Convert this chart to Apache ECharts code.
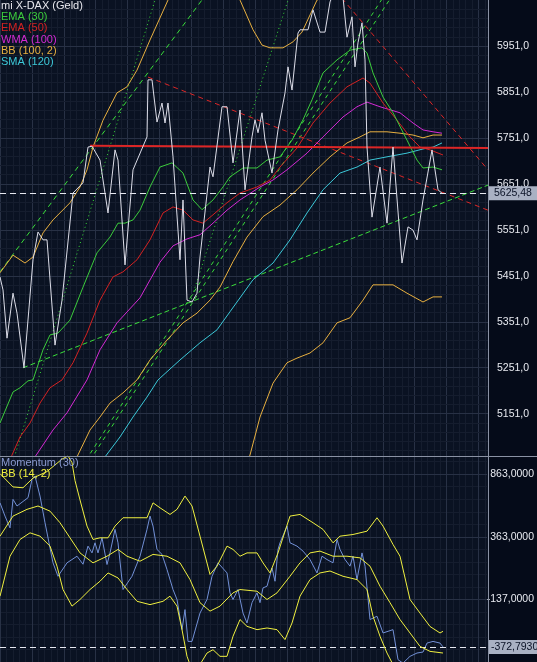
<!DOCTYPE html>
<html><head><meta charset="utf-8">
<script src="https://cdn.jsdelivr.net/npm/echarts@6/dist/echarts.min.js"></script>
<style>html,body{margin:0;padding:0;background:#050b19;}#c{width:537px;height:662px;}</style>
</head><body><div id="c"></div>
<script>
// ---- upper panel: [day, value] ----
const price = [[0,5445],[0.75,5417],[1.75,5313],[3.25,5410],[4.25,5367],[6,5249],[8.25,5482],[9.5,5542],[10.75,5525],[11.75,5525],[13.75,5298],[15.5,5395],[18.25,5626],[20.75,5648],[22,5725],[23,5727],[25,5697],[27,5583],[28.75,5719],[29.5,5697],[31.25,5471],[33.25,5676],[36.75,5747],[37,5870],[38,5870],[39.25,5779],[40.5,5820],[41.25,5777],[42,5820],[43.25,5704],[45,5482],[45.75,5611],[46.75,5395],[48,5391],[49.25,5410],[50,5488],[52.5,5682],[53.25,5661],[55.5,5812],[56.75,5812],[58.25,5691],[60,5805],[61.25,5633],[63,5747],[63.75,5784],[64.5,5756],[65.5,5799],[66.25,5740],[68,5669],[69.5,5762],[71.25,5842],[72,5898],[73,5848],[74.5,5971],[75,5978],[77,5978],[78.25,6021],[80,5973],[81.25,5973],[82.5,6038],[84,6070],[85.5,6070],[86.75,5962],[88,6006],[88.75,5898],[89.5,5950],[90.5,5993],[91.25,5913],[91.75,5725],[93,5574],[95,5682],[96.75,5561],[98.25,5725],[100.5,5475],[102,5553],[103.25,5546],[104.25,5525],[105.75,5611],[108,5719],[109.5,5633],[110.5,5625.48]];
const ema30 = [[0,5130],[3.25,5197],[5,5206],[7,5221],[8.25,5223],[10.75,5288],[12.5,5320],[14.5,5324],[17.5,5352],[20.75,5423],[24.25,5497],[27.5,5531],[29.5,5561],[31.25,5561],[33.25,5568],[35,5589],[37.5,5639],[40,5682],[43,5691],[45.75,5669],[48.25,5611],[50.5,5590],[53.25,5611],[55.75,5639],[57.5,5661],[60.75,5680],[64.25,5680],[66.75,5697],[70,5704],[73,5740],[75.75,5784],[78,5827],[80.75,5885],[84.25,5913],[87.5,5934],[90.5,5939],[91.75,5928],[93.25,5885],[95.75,5833],[98.25,5799],[101.75,5740],[104.25,5697],[105.75,5680],[108.25,5682],[110.5,5676]];
const ema50 = [[2.25,5040],[3,5061],[5,5100],[7.5,5130],[10,5173],[12.5,5206],[15.5,5223],[18.25,5260],[21.75,5324],[25,5395],[28.25,5445],[30.75,5456],[34.25,5482],[37.5,5525],[40.75,5583],[43.25,5596],[45.75,5589],[48.25,5568],[50.75,5561],[53.25,5579],[56.75,5605],[60,5626],[64.25,5639],[67.5,5654],[70,5682],[74.25,5723],[78.25,5777],[82.5,5820],[86.75,5855],[90.75,5874],[92.5,5863],[95.75,5820],[99.25,5783],[102.5,5747],[105,5725],[107.5,5719],[110.75,5708]];
const wma100 = [[8,5040],[8.75,5057],[13.25,5115],[16.75,5152],[21.75,5223],[25,5288],[29.25,5346],[35,5400],[40,5477],[43.25,5512],[46.75,5527],[50,5536],[53.25,5561],[56.75,5589],[60,5611],[65,5639],[68.25,5654],[71.75,5676],[76.75,5712],[80.75,5747],[85.75,5790],[89.25,5812],[91.75,5822],[95,5812],[100,5799],[103.25,5777],[105.75,5762],[108.25,5758],[110.5,5755]];
const bbUpper = [[0,5454],[3.25,5492],[6.25,5475],[8.25,5488],[10.75,5540],[13.25,5568],[17.5,5605],[20,5639],[21.75,5676],[23.25,5725],[25.75,5783],[29.25,5842],[31.75,5855],[34.25,5891],[37.5,5956],[42,6042],[44,6090],[51,6170],[60,6042],[63.25,5978],[65.5,5945],[67.5,5939],[70.75,5939],[73.25,5952],[75.5,5973],[79.25,6042],[85,6075],[95,6090],[110.5,6100]];
const bbMiddle = [[18.5,5040],[19.25,5057],[22.5,5115],[25,5143],[27.5,5173],[30.75,5195],[34.25,5223],[37.5,5266],[41.75,5309],[45.75,5346],[49.25,5367],[52.5,5395],[55,5423],[58.25,5478],[61.75,5531],[65.75,5575],[70,5600],[74.25,5633],[78.25,5669],[82.5,5704],[86.75,5734],[90,5747],[92.5,5758],[96.75,5758],[100,5755],[103.25,5751],[105.75,5745],[108.25,5751],[110.5,5751]];
const bbLower = [[57.5,4921],[62,5050],[62.5,5061],[65,5143],[68.25,5216],[71.75,5260],[74.25,5270],[77.5,5281],[80.75,5303],[84.25,5346],[87.5,5357],[90.75,5395],[93.25,5428],[98.25,5428],[101.75,5410],[105.75,5391],[108.25,5402],[110.5,5402]];
const sma120 = [[25.5,5040],[26.25,5057],[30,5100],[33.25,5143],[36.75,5186],[39.5,5223],[45,5266],[50,5303],[54.25,5331],[57.5,5370],[63.25,5439],[68.25,5475],[72.5,5525],[76.75,5583],[80.75,5633],[85,5669],[89.25,5682],[92.5,5697],[96.75,5704],[101.75,5712],[105.75,5721],[108.25,5725],[110.5,5734]];
// trend lines
const redHoriz = [[22.5,5728],[122,5723]];
const redDash1 = [[37,5876],[122,5589]];
const redDash2 = [[84,6061],[122,5676]];
const greenDot1 = [[3,5040],[39.25,6056]];
const greenDot2 = [[47.5,5389],[72.5,6055]];
const greenDashC = [[0,5456],[51.25,6051]];
const greenDashD1 = [[21.5,5050],[96,6051]];
const greenDashD2 = [[22.5,5050],[98,6051]];
const greenDashE = [[5.75,5249],[122,5643]];
// ---- lower panel ----
const momentum = [[0,669],[1.25,573],[2.5,488],[3.25,694],[4.25,646],[7,706],[8,839],[8.75,863],[10,718],[11.25,525],[13.25,235],[14.5,138],[16.75,235],[19.25,283],[20.75,225],[22,356],[23,307],[23.75,380],[24.5,307],[25.5,416],[26.75,223],[27.5,307],[28.75,477],[29.5,380],[30.75,42],[33,138],[35,283],[36.75,477],[37.5,573],[38.25,501],[39.25,332],[40.5,296],[41.75,187],[43.25,42],[44.25,-30],[45.5,-248],[46.25,-103],[47,-333],[48,-333],[50,-128],[51.75,-30],[53,138],[54.5,235],[56.75,162],[57.5,18],[58.25,-30],[59.5,42],[60.75,-128],[61.75,-200],[63,-53],[64.25,18],[65,-53],[65.75,54],[66.75,66],[68,198],[68.75,102],[69.5,332],[70,380],[71.75,501],[72.5,380],[74.25,356],[75.75,320],[77.5,259],[79.25,162],[80.5,283],[81.75,259],[83.25,235],[84.25,404],[85,332],[86.25,259],[87.5,211],[88.25,283],[89.25,114],[90.5,307],[91.25,211],[92.5,-175],[94.25,-151],[95.75,-272],[98.25,-248],[99.5,-465],[100.75,-490],[102.5,-441],[104.25,-417],[105.75,-410],[106.75,-345],[108.25,-333],[110,-345],[110.75,-372.793]];
const bb14Upper = [[0,880],[3.25,784],[5.75,778],[8.25,848],[11.75,895],[15.5,985],[17,1008],[18,960],[18.75,830],[20,690],[21.75,501],[23.25,404],[25,416],[27,416],[28.75,501],[30.75,561],[33.25,561],[36.75,561],[38.25,669],[40,633],[42.5,585],[44.25,622],[46.25,718],[48,646],[50,428],[52.5,151],[54.25,211],[56.75,356],[58.25,332],[60,283],[61.75,307],[64.25,307],[65.75,235],[67.5,162],[69.5,307],[72.5,573],[75,585],[78.25,525],[80.75,477],[83.25,380],[85,428],[88.25,440],[91.75,464],[94.25,561],[95.75,501],[98.25,368],[100,283],[102.5,-30],[105,-128],[107.5,-225],[110,-272],[110.75,-260]];
const bb14Middle = [[0,428],[3.25,573],[6.75,622],[9.5,646],[12.5,609],[15,525],[17.5,416],[20,307],[23.25,235],[26.75,283],[29.5,332],[31.75,283],[35,247],[38.25,296],[41.75,283],[45,235],[47.5,114],[50,-53],[52.5,-114],[55,-78],[58.25,18],[60,42],[64.25,30],[66.75,-30],[69.25,18],[72.5,138],[75,235],[77.5,307],[80,320],[83.25,283],[86.75,283],[90,271],[92.5,211],[95,66],[97.5,-53],[100,-175],[102.5,-272],[105,-369],[107.5,-405],[110.75,-417]];
const bb14Lower = [[0,-6],[2.5,283],[5,404],[7.5,452],[10,428],[12.5,356],[14.25,211],[15.75,42],[18,-78],[20,-30],[22.5,42],[25,102],[27,162],[29.5,126],[31.75,42],[34.25,-43],[37.5,-67],[40.75,-43],[42.5,-6],[44.25,-78],[45.5,-248],[46.75,-441],[47.5,-500],[50,-500],[51.75,-417],[53.25,-393],[55,-441],[56.75,-441],[58.25,-296],[60,-175],[61.75,-224],[64.25,-248],[66.75,-236],[69.25,-248],[71.25,-320],[73,-200],[75,-6],[77.5,114],[80,162],[82.5,176],[85.75,138],[89.25,114],[91.75,42],[93.25,-151],[95,-296],[96.75,-417],[98.25,-500],[100,-560],[110.75,-600]];
// ---- legend texts ----
const upperLegend = ['mi X-DAX (Geld)','EMA (30)','EMA (50)','WMA (100)','BB (100, 2)','SMA (120)'];
const lowerLegend = ['Momentum (30)','BB (14, 2)'];

const FONT = '"Liberation Sans", Arial, sans-serif';
const MAJOR = '#283145', MINOR = '#151d2e', BORDER = '#8a92a4';
const C = {price:'#dcdde8', ema30:'#3ccc3c', ema50:'#d42222', wma:'#d42ad4', bb:'#e8b040', sma:'#3cc8d8', red:'#dd2626', green:'#3ade3a', mom:'#7290d6', bb14:'#f0f040'};

function ser(data, color, o) {
  o = o || {};
  return {type:'line', data:data, xAxisIndex:o.lower?1:0, yAxisIndex:o.lower?1:0, showSymbol:false, symbol:'none',
    silent:true, animation:false, z:o.z||4, lineStyle:{color:color, width:o.width||1, type:o.dash||'solid'}};
}
const lastP = price[price.length-1][1];
const lastM = momentum[momentum.length-1][1];
const boxLabel = (txt, pad) => ({show:true, position:'end', distance:1, formatter:()=>txt, color:'#0a1226',
  backgroundColor:'#a9b1c3', padding:pad, fontSize:10.5, fontFamily:FONT});

const priceSeries = ser(price, C.price, {z:6});
priceSeries.markLine = {symbol:['none','none'], silent:true, animation:false,
  lineStyle:{color:'#e6e8f0', type:[6,4], width:1}, label:boxLabel(lastP.toFixed(2).replace('.',','), [2,7,1,5]),
  data:[{yAxis:lastP}]};
const momSeries = ser(momentum, C.mom, {lower:true, z:4});
momSeries.markLine = {symbol:['none','none'], silent:true, animation:false,
  lineStyle:{color:'#e6e8f0', type:[6,4], width:1}, label:boxLabel(lastM.toFixed(4).replace('.',','), [2,3,1,2]),
  data:[{yAxis:lastM}]};

const hidden = {show:false};
const option = {
  backgroundColor:'#050b19',
  animation:false,
  grid:[
    {left:0, top:0, width:488, height:456},
    {left:0, top:456, width:488, height:206},
    {left:-24.5, top:0, width:512.5, height:662, show:true, backgroundColor:'#0a1222', borderWidth:0},
    {left:0, top:-4.075, width:488, height:463.75},
    {left:0, top:457.05, width:488, height:226.4}
  ],
  xAxis:[
    {gridIndex:0, type:'value', min:0, max:122, show:false},
    {gridIndex:1, type:'value', min:0, max:122, show:false},
    {gridIndex:2, type:'value', min:0, max:512.5/33.5, interval:1, z:1,
      axisLine:hidden, axisTick:hidden, axisLabel:hidden,
      splitLine:{show:true, lineStyle:{color:MAJOR, width:1}},
      minorTick:{show:false, splitNumber:5},
      minorSplitLine:{show:true, lineStyle:{color:MINOR, width:1}}},
    {gridIndex:3, type:'value', min:0, max:1, show:false},
    {gridIndex:4, type:'value', min:0, max:1, show:false}
  ],
  yAxis:[
    {gridIndex:0, type:'value', min:5058.91, max:6042.2, show:false},
    {gridIndex:1, type:'value', min:-481.9, max:1007.6, show:false},
    {gridIndex:2, type:'value', min:0, max:1, show:false},
    {gridIndex:3, type:'value', position:'right', min:5051, max:6051, interval:100, z:2,
      axisLine:hidden, axisTick:hidden,
      axisLabel:{show:true, margin:9, align:'left', color:'#e8eaf0', fontSize:10.5, fontFamily:FONT,
        showMinLabel:false, showMaxLabel:false, formatter:(v)=>v.toFixed(1).replace('.',',')},
      splitLine:{show:true, showMinLine:false, showMaxLine:false, lineStyle:{color:MAJOR, width:1}},
      minorTick:{show:false, splitNumber:5},
      minorSplitLine:{show:true, lineStyle:{color:MINOR, width:1}}},
    {gridIndex:4, type:'value', position:'right', min:-637, max:1000, interval:500, z:2,
      axisLine:hidden, axisTick:hidden,
      axisLabel:{show:true, margin:47, align:'right', color:'#e8eaf0', fontSize:10.5, fontFamily:FONT,
        showMinLabel:false, showMaxLabel:false, formatter:(v)=>v.toFixed(4).replace('.',',')},
      splitLine:{show:true, showMinLine:false, showMaxLine:false, lineStyle:{color:MAJOR, width:1}}},
    {gridIndex:4, type:'value', position:'right', min:-637, max:1000, interval:100, z:1,
      axisLine:hidden, axisTick:hidden, axisLabel:hidden,
      splitLine:{show:true, showMinLine:false, showMaxLine:false, lineStyle:{color:MINOR, width:1}}}
  ],
  series:[
    ser(greenDashE, C.green, {dash:[5,3], z:3}),
    ser(greenDashC, C.green, {dash:[5,4], z:3}),
    ser(greenDashD1, C.green, {dash:[4,4], z:3}),
    ser(greenDashD2, C.green, {dash:[4,4], z:3}),
    ser(greenDot1, C.green, {dash:[1,3], z:3}),
    ser(greenDot2, C.green, {dash:[1,3], z:3}),
    ser(redDash1, C.red, {dash:[5,4], z:3}),
    ser(redDash2, C.red, {dash:[5,4], z:3}),
    ser(sma120, C.sma),
    ser(bbLower, C.bb),
    ser(bbMiddle, C.bb),
    ser(bbUpper, C.bb),
    ser(wma100, C.wma),
    ser(ema50, C.ema50),
    ser(ema30, C.ema30),
    ser(redHoriz, C.red, {width:2, z:5}),
    priceSeries,
    momSeries,
    ser(bb14Lower, C.bb14, {lower:true, z:5}),
    ser(bb14Middle, C.bb14, {lower:true, z:5}),
    ser(bb14Upper, C.bb14, {lower:true, z:5})
  ],
  graphic:[]
};
const upColors = ['#e8e8ee', C.ema30, C.ema50, C.wma, C.bb, C.sma];
const upY = [6, 17, 28.3, 39.5, 50.7, 61.8];
upperLegend.forEach((t,i)=>option.graphic.push({type:'text', x:1, y:upY[i], z:20, silent:true,
  style:{text:t, fill:upColors[i], font:'11px '+FONT, textVerticalAlign:'middle', verticalAlign:'middle'}}));
const loColors = ['#8a9ad0', C.bb14];
const loY = [463.3, 474.3];
lowerLegend.forEach((t,i)=>option.graphic.push({type:'text', x:1, y:loY[i], z:20, silent:true,
  style:{text:t, fill:loColors[i], font:'11px '+FONT, textVerticalAlign:'middle', verticalAlign:'middle'}}));
option.graphic.push({type:'line', z:19, silent:true, shape:{x1:0, y1:456.5, x2:537, y2:456.5}, style:{stroke:BORDER, lineWidth:1}});
option.graphic.push({type:'line', z:19, silent:true, shape:{x1:488.5, y1:0, x2:488.5, y2:662}, style:{stroke:BORDER, lineWidth:1}});

const chart = echarts.init(document.getElementById('c'), null, {renderer:'canvas'});
chart.setOption(option);
</script></body></html>
